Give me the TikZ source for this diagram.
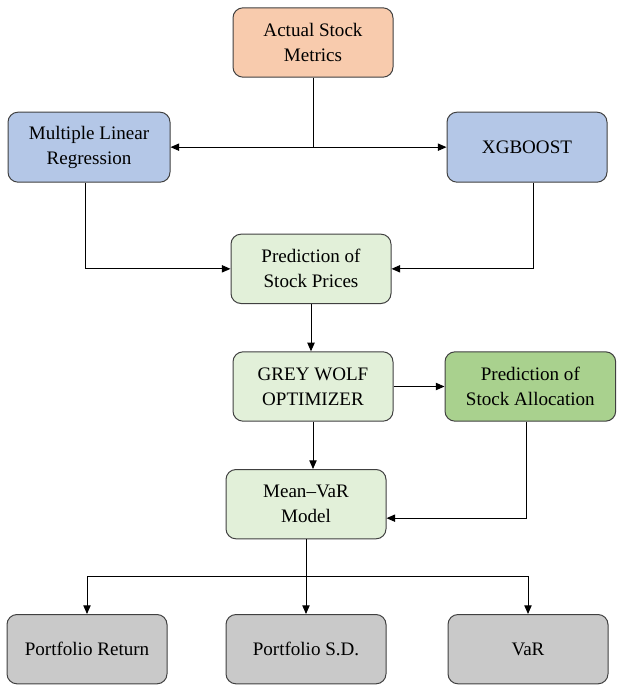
\documentclass[tikz,border=0pt]{standalone}
\usepackage{fontspec}
\setmainfont{Liberation Serif}
\usetikzlibrary{arrows.meta, positioning}
\definecolor{InputPeach}  {RGB}{248, 203, 173}
\definecolor{ModelBlue}   {RGB}{180, 199, 231}
\definecolor{StepGreen}   {RGB}{226, 240, 217}
\definecolor{AllocGreen}  {RGB}{169, 209, 142}
\definecolor{OutGray}     {RGB}{201, 201, 201}
\definecolor{EdgeGray}    {RGB}{ 64,  64,  64}
\tikzset{
  % Common box look
  basebox/.style={
    rectangle, rounded corners=7.5pt,
    draw=EdgeGray, line width=0.75pt,
    text=black, font=\fontsize{14.3}{18.75}\selectfont,
    inner sep=2pt, minimum width=120pt, minimum height=52pt,
    align=center
  },
  % Input metrics
  inputbox/.style={basebox, fill=InputPeach},
  % Forecasting models
  modelbox/.style={basebox, fill=ModelBlue, minimum height=52.5pt},
  % Pipeline steps
  stepbox/.style={basebox, fill=StepGreen},
  % Allocation result
  allocbox/.style={basebox, fill=AllocGreen, minimum width=128pt},
  % Portfolio outputs
  outbox/.style={basebox, fill=OutGray},
  % Arrow style
  flowarrow/.style={
    -{Triangle[length=6.5pt, width=5.5pt]}, line width=0.75pt, color=black
  }
}

\begin{document}
\begin{tikzpicture}[x=0.75pt, y=-0.75pt]
  \useasboundingbox (0,0) rectangle (617,685);

  % ── Input ─────────────────────────────────────────────────────────────────
  \node[inputbox] (actual) at (313,42.5) {Actual Stock\\Metrics};

  % ── Models ────────────────────────────────────────────────────────────────
  \node[modelbox, minimum width=121.5pt, below left=25.5pt and 46.5pt of actual] (mlr) {Multiple Linear\\Regression};
  \node[modelbox, below right=25.5pt and 39.75pt of actual]                      (xgb) {XGBOOST};

  % ── Pipeline ──────────────────────────────────────────────────────────────
  \node[stepbox, below=117pt of actual, xshift=-1.5pt]  (pred)  {Prediction of\\Stock Prices};
  \node[stepbox, below=35.5pt of pred, xshift=1.5pt]    (gwo)   {GREY WOLF\\OPTIMIZER};
  \node[allocbox, right=38.25pt of gwo]                 (alloc) {Prediction of\\Stock Allocation};
  \node[stepbox, below=35.5pt of gwo, xshift=-5.25pt]   (mvar)  {Mean--VaR\\Model};

  % ── Outputs ───────────────────────────────────────────────────────────────
  \node[outbox, below=56pt of mvar]     (psd)  {Portfolio S.D.};
  \node[outbox, left=43.5pt of psd]     (pret) {Portfolio Return};
  \node[outbox, right=45.75pt of psd]   (pvar) {VaR};
  \coordinate[below=28pt of mvar] (bus);

  % ── Edges: input → models → prices ────────────────────────────────────────
  \draw[flowarrow] (actual.south) |- (mlr.east);
  \draw[flowarrow] (actual.south) |- (xgb.west);
  \draw[flowarrow] ([xshift=-3pt]mlr.south) |- (pred.west);
  \draw[flowarrow] ([xshift=5pt]xgb.south) |- (pred.east);

  % ── Edges: optimisation ───────────────────────────────────────────────────
  \draw[flowarrow] (pred.south) -- (pred.south |- gwo.north);
  \draw[flowarrow] (gwo.east) -- (alloc.west);
  \draw[flowarrow] (gwo.south) -- (gwo.south |- mvar.north);
  \draw[flowarrow] ([xshift=-3pt]alloc.south) |- ([yshift=-10.5pt]mvar.east);

  % ── Edges: model → outputs ────────────────────────────────────────────────
  \draw[line width=0.75pt] (mvar.south) -- (bus);
  \draw[flowarrow] (bus) -| (pret.north);
  \draw[flowarrow] (bus) -- (psd.north);
  \draw[flowarrow] (bus) -| (pvar.north);

\end{tikzpicture}
\end{document}
